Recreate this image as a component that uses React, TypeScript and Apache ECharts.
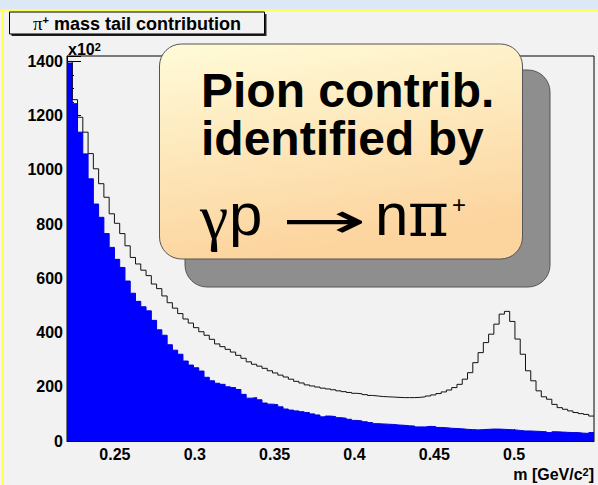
import React, { useEffect, useRef } from "react";
import * as echarts from "echarts";

// ---- data ----
const binStart = 0.22;
const binWidth = 0.0033;
const xMin = 0.22;
const xMax = 0.55;
const yMax = 1420;
const yInterval = 200;
const xTickValues = [0.25, 0.3, 0.35, 0.4, 0.45, 0.5];

// total mass spectrum (outline histogram), units of 10^2
const totalCounts = [
  1400, 1259, 1194, 1139, 1060, 1004, 949, 899, 838, 803,
  765, 720, 677, 653, 630, 610, 579, 562, 535, 510,
  490, 470, 450, 435, 418, 403, 390, 375, 358, 348,
  338, 328, 316, 305, 292, 283, 276, 268, 259, 251,
  243, 236, 228, 220, 214, 207, 203, 199, 195, 192,
  189, 185, 182, 179, 176, 174, 171, 168, 166, 164,
  163, 162, 161, 160, 160, 160, 161, 163, 166, 170,
  175, 181, 188, 197, 209, 228, 252, 289, 326, 363,
  394, 431, 468, 478, 441, 376, 320, 259, 222, 185,
  163, 154, 135, 123, 117, 111, 105, 101, 98, 92,
];

// pion contribution (filled histogram), units of 10^2
const pionCounts = [
  1394, 1244, 1139, 1059, 967, 874, 825, 765, 714, 670,
  640, 590, 545, 515, 495, 480, 445, 410, 390, 355,
  335, 320, 295, 280, 270, 258, 235, 222, 213, 209,
  200, 197, 190, 172, 158, 160, 152, 140, 136, 134,
  126, 118, 114, 111, 108, 105, 100, 96, 89, 92,
  90, 86, 84, 80, 76, 74, 71, 68, 64, 63,
  62, 61, 59, 58, 56, 55, 52, 52, 54, 53,
  50, 49, 47, 46, 45, 43, 42, 41, 42, 43,
  44, 44, 43, 42, 41, 39, 37, 37, 36, 35,
  34, 31, 34, 33, 32, 31, 31, 29, 28, 31,
];

const SANS = "'Liberation Sans', Arial, Helvetica, sans-serif";
const SERIF = "'Liberation Serif', 'DejaVu Serif', serif";

function toSteps(counts: number[]) {
  const pts: number[][] = counts.map((c, i) => [
    +(binStart + i * binWidth).toFixed(5),
    c,
  ]);
  pts.push([+(binStart + counts.length * binWidth).toFixed(5), counts[counts.length - 1]]);
  return pts;
}

export default function App() {
  const ref = useRef<HTMLDivElement>(null);

  useEffect(() => {
    if (!ref.current) return;
    const chart = echarts.init(ref.current, null, { renderer: "svg" });

    const option: any = {
      animation: false,
      backgroundColor: "#f2f2f2",
      grid: {
        left: 67,
        right: 4,
        top: 56,
        bottom: 44,
        show: true,
        borderColor: "#000",
        borderWidth: 1,
        backgroundColor: "transparent",
      },
      xAxis: {
        type: "value",
        min: xMin,
        max: xMax,
        axisLine: { show: true, onZero: false, lineStyle: { color: "#000", width: 1 } },
        axisTick: {
          show: true,
          inside: true,
          length: 12,
          customValues: xTickValues,
          lineStyle: { color: "#000" },
        },
        axisLabel: {
          customValues: xTickValues,
          formatter: (v: number) => String(v),
          fontFamily: SANS,
          fontWeight: "bold",
          fontSize: 16,
          color: "#000",
          margin: 5,
        },
        splitLine: { show: false },
      },
      yAxis: {
        type: "value",
        min: 0,
        max: yMax,
        interval: yInterval,
        axisLine: { show: true, lineStyle: { color: "#000", width: 1 } },
        axisTick: { show: true, inside: true, length: 14, lineStyle: { color: "#000" } },
        minorTick: { show: true, splitNumber: 4, length: 7, lineStyle: { color: "#000" } },
        axisLabel: {
          formatter: (v: number) => String(v),
          fontFamily: SANS,
          fontWeight: "bold",
          fontSize: 16,
          color: "#000",
          margin: 4,
          showMaxLabel: false,
        },
        splitLine: { show: false },
        minorSplitLine: { show: false },
      },
      series: [
        {
          name: "pion",
          type: "line",
          step: "end",
          symbol: "none",
          data: toSteps(pionCounts),
          lineStyle: { color: "#0000e0", width: 1 },
          areaStyle: { color: "#0000ff", opacity: 1 },
          z: 2,
        },
        {
          name: "total",
          type: "line",
          step: "end",
          symbol: "none",
          data: toSteps(totalCounts),
          lineStyle: { color: "#111", width: 1 },
          z: 3,
        },
      ],
      graphic: [
        { type: "rect", shape: { x: 0, y: 0, width: 598, height: 9 }, style: { fill: "#dde8f6" }, z: 1 },
        { type: "rect", shape: { x: 0, y: 9, width: 598, height: 2 }, style: { fill: "#ffff50" }, z: 1 },
        { type: "rect", shape: { x: 2, y: 10, width: 1.5, height: 475 }, style: { fill: "#ffff50" }, z: 1 },
        // title box
        { type: "rect", shape: { x: 11.5, y: 14, width: 255, height: 22 }, style: { fill: "#222" }, z: 10 },
        {
          type: "rect",
          shape: { x: 9.5, y: 12, width: 255, height: 22 },
          style: { fill: "#f2f2f2", stroke: "#000", lineWidth: 1 },
          z: 11,
        },
        {
          type: "text",
          x: 137,
          y: 23.5,
          z: 12,
          style: {
            text: "{pi|π}{sup|+}{b| mass tail contribution}",
            align: "center",
            verticalAlign: "middle",
            fill: "#000",
            rich: {
              pi: { fontFamily: SERIF, fontSize: 19, fill: "#000" },
              sup: { fontFamily: SANS, fontSize: 11, fontWeight: "bold", verticalAlign: "top", fill: "#000" },
              b: { fontFamily: SANS, fontSize: 18, fontWeight: "bold", fill: "#000" },
            },
          },
        },
        {
          type: "text",
          x: 68,
          y: 49,
          z: 12,
          style: {
            text: "{b|x10}{s|2}",
            align: "left",
            verticalAlign: "middle",
            fill: "#000",
            rich: {
              b: { fontFamily: SANS, fontSize: 16, fontWeight: "bold", fill: "#000" },
              s: { fontFamily: SANS, fontSize: 11, fontWeight: "bold", verticalAlign: "top", fill: "#000" },
            },
          },
        },
        // annotation box
        {
          type: "rect",
          shape: { x: 185, y: 70, width: 365, height: 217, r: 22 },
          style: { fill: "#8e8e8e", stroke: "#555", lineWidth: 1 },
          z: 100,
        },
        {
          type: "rect",
          shape: { x: 159.5, y: 44, width: 363, height: 215, r: 22 },
          style: {
            fill: new echarts.graphic.LinearGradient(0, 0, 0.25, 1, [
              { offset: 0, color: "#fffbd8" },
              { offset: 1, color: "#fcd49e" },
            ]),
            stroke: "#555",
            lineWidth: 1,
          },
          z: 101,
        },
        {
          type: "text",
          x: 201,
          y: 90,
          z: 102,
          style: {
            text: "Pion contrib.",
            font: `bold 48px ${SANS}`,
            lineHeight: 42,
            fill: "#000",
            align: "left",
            verticalAlign: "middle",
          },
        },
        {
          type: "text",
          x: 201,
          y: 138,
          z: 102,
          style: {
            text: "identified by",
            font: `bold 48px ${SANS}`,
            lineHeight: 42,
            fill: "#000",
            align: "left",
            verticalAlign: "middle",
          },
        },
        {
          type: "text",
          x: 200,
          y: 216,
          z: 102,
          style: { text: "γ", font: `64px ${SERIF}`, fill: "#000", align: "left", verticalAlign: "middle" },
        },
        {
          type: "text",
          x: 229,
          y: 214,
          z: 102,
          style: { text: "p", font: `60px ${SANS}`, fill: "#000", align: "left", verticalAlign: "middle" },
        },
        {
          type: "text",
          x: 281,
          y: 221,
          z: 102,
          scaleX: 2.05,
          style: { text: "→", font: `50px 'DejaVu Sans', sans-serif`, fill: "#000", align: "left", verticalAlign: "middle" },
        },
        {
          type: "text",
          x: 375,
          y: 214,
          z: 102,
          style: { text: "n", font: `60px ${SANS}`, fill: "#000", align: "left", verticalAlign: "middle" },
        },
        {
          type: "text",
          x: 408,
          y: 214,
          z: 102,
          style: { text: "π", font: `62px 'DejaVu Serif', serif`, fill: "#000", align: "left", verticalAlign: "middle" },
        },
        {
          type: "text",
          x: 452,
          y: 204,
          z: 102,
          style: { text: "+", font: `24px ${SANS}`, fill: "#000", align: "left", verticalAlign: "middle" },
        },
        // x axis title
        {
          type: "text",
          x: 594,
          y: 474,
          z: 12,
          style: {
            text: "{b|m [GeV/c}{s|2}{b|]}",
            align: "right",
            verticalAlign: "middle",
            fill: "#000",
            rich: {
              b: { fontFamily: SANS, fontSize: 16, fontWeight: "bold", fill: "#000" },
              s: { fontFamily: SANS, fontSize: 11, fontWeight: "bold", verticalAlign: "top", fill: "#000" },
            },
          },
        },
      ],
    };

    chart.setOption(option);
    return () => chart.dispose();
  }, []);

  return (
    <div
      ref={ref}
      style={{ position: "fixed", left: 0, top: 0, width: 598, height: 485 }}
    />
  );
}
